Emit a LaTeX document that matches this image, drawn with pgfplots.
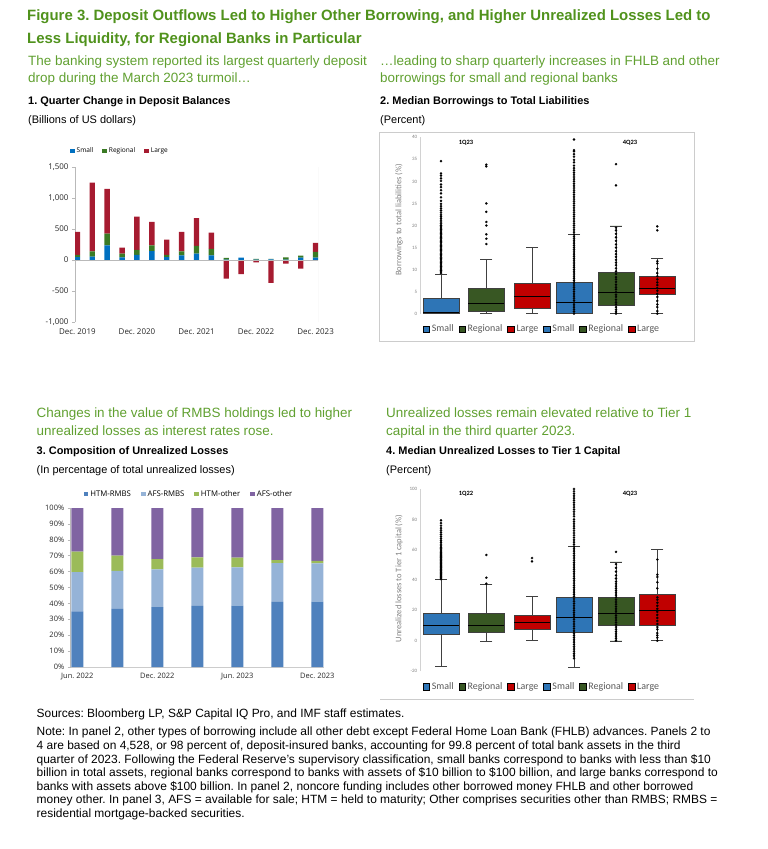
\documentclass[border=0pt]{standalone}
\usepackage{fontspec}
\setmainfont{Liberation Sans}
\newfontfamily\segoe{Open Sans}
\newfontfamily\calib{Carlito}
\usepackage{pgfplots}
\usepackage{pgfplotstable}
\pgfplotsset{compat=1.18}
\usepgfplotslibrary{statistics}
\frenchspacing

\definecolor{imfgreen}{RGB}{80,146,28}
\definecolor{subgreen}{RGB}{96,160,48}
\definecolor{smallc}{RGB}{0,112,192}
\definecolor{regc}{RGB}{58,122,36}
\definecolor{largec}{RGB}{166,27,48}
\definecolor{bxblue}{RGB}{46,117,182}
\definecolor{bxgreen}{RGB}{56,87,35}
\definecolor{bxred}{RGB}{192,0,0}
\definecolor{htmr}{RGB}{79,129,189}
\definecolor{afsr}{RGB}{149,179,215}
\definecolor{htmo}{RGB}{155,187,89}
\definecolor{afso}{RGB}{128,100,162}

% panel 1: quarterly change in deposits, positive parts (billions)
\pgfplotstableread{
idx S R L
0 45 38 372
1 54 86 1110
2 237 189 722
3 43 59 98
4 81 81 538
5 145 92 378
6 48 33 249
7 75 65 313
8 102 124 448
9 75 103 264
10 5 30 0
11 38 0 0
12 8 12 0
13 12 8 0
14 5 38 0
15 38 32 0
16 38 92 146
}\deppos
% negative parts (large banks)
\pgfplotstableread{
idx L
10 -300
11 -227
12 -38
13 -370
14 -60
15 -140
}\depneg

% panel 3: composition of unrealized losses
\pgfplotstableread{
idx htmr afsr htmo afso
0 35.0 24.7 12.8 27.5
1 36.5 23.9 9.6 30.0
2 37.7 23.7 6.5 32.1
3 38.4 24.1 6.5 31.0
4 38.6 24.1 6.1 31.2
5 40.9 24.5 1.9 32.7
6 41.1 24.1 1.5 33.3
}\unreal

\tikzset{txt/.style={anchor=base west, inner sep=0pt}}
\pgfplotsset{
  bx/.style={draw=black!75, line width=0.7bp, mark=*, mark size=1.2bp,
    mark options={fill=black, draw=black, line width=0.1bp}, forget plot,
    boxplot/box extend=36, boxplot/whisker extend=12,
    boxplot/every median/.style={draw=black, line width=1bp}},
  sq/.style={legend image code/.code={\fill[##1] (0bp,-2.3bp) rectangle (4.6bp,2.3bp);}},
  bxsq/.style={legend image code/.code={\draw[##1, draw=black, line width=0.5bp] (0bp,-3.3bp) rectangle (6.6bp,3.3bp);}},
}

\begin{document}
\begin{tikzpicture}
\path[use as bounding box] (0,0) rectangle (768bp,-849bp);

% ---------- texts ----------
\node[txt, font=\bfseries\fontsize{15}{18}\selectfont, text=imfgreen] at (27bp,-20bp) {Figure 3. Deposit Outflows Led to Higher Other Borrowing, and Higher Unrealized Losses Led to};
\node[txt, font=\bfseries\fontsize{15}{18}\selectfont, text=imfgreen] at (27bp,-43bp) {Less Liquidity, for Regional Banks in Particular};

\node[txt, font=\fontsize{13.5}{16}\selectfont, text=subgreen] at (28bp,-65bp) {The banking system reported its largest quarterly deposit};
\node[txt, font=\fontsize{13.5}{16}\selectfont, text=subgreen] at (28bp,-82bp) {drop during the March 2023 turmoil…};
\node[txt, font=\fontsize{13.5}{16}\selectfont, text=subgreen] at (380bp,-65bp) {…leading to sharp quarterly increases in FHLB and other};
\node[txt, font=\fontsize{13.5}{16}\selectfont, text=subgreen] at (380bp,-82bp) {borrowings for small and regional banks};
\node[txt, font=\bfseries\fontsize{11}{13}\selectfont] at (28bp,-104bp) {1. Quarter Change in Deposit Balances};
\node[txt, font=\fontsize{11}{13}\selectfont] at (28bp,-123bp) {(Billions of US dollars)};
\node[txt, font=\bfseries\fontsize{11}{13}\selectfont] at (380bp,-104bp) {2. Median Borrowings to Total Liabilities};
\node[txt, font=\fontsize{11}{13}\selectfont] at (380bp,-123bp) {(Percent)};

\node[txt, font=\fontsize{13.5}{16}\selectfont, text=subgreen] at (36.5bp,-417bp) {Changes in the value of RMBS holdings led to higher};
\node[txt, font=\fontsize{13.5}{16}\selectfont, text=subgreen] at (36.5bp,-435bp) {unrealized losses as interest rates rose.};
\node[txt, font=\bfseries\fontsize{11}{13}\selectfont] at (36.5bp,-454bp) {3. Composition of Unrealized Losses};
\node[txt, font=\fontsize{11}{13}\selectfont] at (36.5bp,-473bp) {(In percentage of total unrealized losses)};
\node[txt, font=\fontsize{13.5}{16}\selectfont, text=subgreen] at (386bp,-417bp) {Unrealized losses remain elevated relative to Tier 1};
\node[txt, font=\fontsize{13.5}{16}\selectfont, text=subgreen] at (386bp,-435bp) {capital in the third quarter 2023.};
\node[txt, font=\bfseries\fontsize{11}{13}\selectfont] at (386bp,-454bp) {4. Median Unrealized Losses to Tier 1 Capital};
\node[txt, font=\fontsize{11}{13}\selectfont] at (386bp,-473bp) {(Percent)};

\begin{scope}[every node/.append style={font=\fontsize{12}{14}\selectfont}]
\node[txt] at (36.5bp,-717bp) {Sources: Bloomberg LP, S\&P Capital IQ Pro, and IMF staff estimates.};
\node[txt] at (36.5bp,-735bp) {Note: In panel 2, other types of borrowing include all other debt except Federal Home Loan Bank (FHLB) advances. Panels 2 to};
\node[txt] at (36.5bp,-749bp) {4 are based on 4,528, or 98 percent of, deposit-insured banks, accounting for 99.8 percent of total bank assets in the third};
\node[txt] at (36.5bp,-763bp) {quarter of 2023. Following the Federal Reserve’s supervisory classification, small banks correspond to banks with less than \$10};
\node[txt] at (36.5bp,-776.5bp) {billion in total assets, regional banks correspond to banks with assets of \$10 billion to \$100 billion, and large banks correspond to};
\node[txt] at (36.5bp,-790bp) {banks with assets above \$100 billion. In panel 2, noncore funding includes other borrowed money FHLB and other borrowed};
\node[txt] at (36.5bp,-803.5bp) {money other. In panel 3, AFS = available for sale; HTM = held to maturity; Other comprises securities other than RMBS; RMBS =};
\node[txt] at (36.5bp,-817bp) {residential mortgage-backed securities.};
\end{scope}

% frames of panels 2 and 4
\draw[gray!40, line width=0.6bp] (379bp,-132bp) rectangle (694bp,-341bp);
\draw[gray!40, line width=0.6bp] (380bp,-699bp) -- (694bp,-699bp);
\node[font=\calib\bfseries\fontsize{6.5}{8}\selectfont] at (466bp,-143bp) {1Q23};
\node[font=\calib\bfseries\fontsize{6.5}{8}\selectfont] at (630bp,-143bp) {4Q23};
\node[font=\calib\bfseries\fontsize{6.5}{8}\selectfont] at (466bp,-494bp) {1Q22};
\node[font=\calib\bfseries\fontsize{6.5}{8}\selectfont] at (630bp,-494bp) {4Q23};

% ---------- panel 1 ----------
\begin{axis}[
  at={(75bp,-322bp)}, anchor=south west, scale only axis,
  width=243bp, height=155bp,
  xmin=-0.16, xmax=16.16, ymin=-1000, ymax=1500,
  ybar stacked, bar width=5.4bp,
  axis x line*=bottom, axis y line*=left,
  x axis line style={draw=none},
  y axis line style={draw=gray!55, line width=0.5bp},
  xtick={0,4,8,12,16},
  xticklabels={Dec. 2019,Dec. 2020,Dec. 2021,Dec. 2022,Dec. 2023},
  xtick style={draw=none},
  ytick={-1000,-500,0,500,1000,1500},
  yticklabels={{-1,000},{-500},{0},{500},{1,000},{1,500}},
  ytick style={draw=gray!55, line width=0.5bp},
  tick align=outside, major tick length=3bp,
  ticklabel style={font=\segoe\fontsize{8}{9}\selectfont, text=black!85},
  sq,
  legend style={at={(0.185,1.103)}, anchor=center, draw=none, fill=none,
    legend columns=3, font=\segoe\fontsize{6.6}{8}\selectfont,
    /tikz/every even column/.append style={column sep=7bp}},
]
\addplot[fill=smallc, draw=none] table[x=idx, y=S] {\deppos};
\addlegendentry{Small}
\addplot[fill=regc, draw=none] table[x=idx, y=R] {\deppos};
\addlegendentry{Regional}
\addplot[fill=largec, draw=none] table[x=idx, y=L] {\deppos};
\addlegendentry{Large}
\draw[gray!30, line width=0.5bp] (rel axis cs:1,0) -- (rel axis cs:1,1);
\end{axis}
\begin{axis}[
  at={(75bp,-322bp)}, anchor=south west, scale only axis,
  width=243bp, height=155bp,
  xmin=-0.16, xmax=16.16, ymin=-1000, ymax=1500,
  hide axis, ybar, bar width=5.4bp, bar shift=0pt,
]
\addplot[fill=largec, draw=none] table[x=idx, y=L] {\depneg};
\draw[gray!55, line width=0.5bp] (axis cs:-0.16,0) -- (axis cs:16.16,0);
\end{axis}

% ---------- panel 2 ----------
\begin{axis}[
  at={(420.7bp,-313.7bp)}, anchor=south west, scale only axis,
  width=269.3bp, height=176.4bp,
  xmin=0, xmax=269.3, ymin=0, ymax=40, clip=false,
  axis x line=none, axis y line*=left,
  y axis line style={draw=gray!35, line width=0.5bp},
  ytick={0,5,...,40}, yticklabels={0,5,10,15,20,25,30,35,40},
  ytick style={draw=none},
  yticklabel style={font=\calib\fontsize{5}{6}\selectfont, text=gray},
  ylabel={Borrowings to total liabilities (\%)},
  ylabel style={at={(axis description cs:-0.081,0.531)}, anchor=center,
    font=\calib\fontsize{8.5}{10}\selectfont, text=gray},
  boxplot/draw direction=y,
  bxsq,
  legend style={at={(0.45,-0.087)}, anchor=center, draw=none, fill=none,
    legend columns=6, font=\calib\fontsize{10}{12}\selectfont, text=black!65,
    /tikz/every even column/.append style={column sep=3bp}},
]
\addplot[bx, fill=bxblue, boxplot prepared={draw position=20.3, lower whisker=0,
  lower quartile=0, median=0.2, upper quartile=3.55, upper whisker=8.85}]
  table[row sep=\\, y index=0] {v\\ 9.2\\ 9.5\\ 9.8\\ 10.1\\ 10.4\\ 10.7\\ 11.0\\ 11.3\\ 11.6\\ 11.9\\
  12.2\\ 12.5\\ 12.8\\ 13.1\\ 13.4\\ 13.7\\ 14.0\\ 14.3\\ 14.6\\ 14.9\\ 15.2\\ 15.5\\ 15.8\\ 16.1\\
  16.4\\ 16.7\\ 17.0\\ 17.3\\ 17.6\\ 17.9\\ 18.2\\ 18.5\\ 18.8\\ 19.1\\ 19.4\\ 19.7\\ 20.0\\ 20.4\\
  20.8\\ 21.2\\ 21.6\\ 22.0\\ 22.4\\ 22.9\\ 23.4\\ 23.9\\ 24.4\\ 24.9\\ 25.6\\ 26.4\\ 27.3\\ 28.0\\
  28.7\\ 29.3\\ 30.1\\ 30.7\\ 31.3\\ 31.8\\ 34.6\\};
\addplot[bx, fill=bxgreen, boxplot prepared={draw position=65.6, lower whisker=0,
  lower quartile=0.45, median=2.35, upper quartile=5.8, upper whisker=12.4}]
  table[row sep=\\, y index=0] {v\\ 15.8\\ 17.0\\ 18.0\\ 20.0\\ 20.8\\ 23.1\\ 25.0\\ 33.4\\ 33.8\\};
\addplot[bx, fill=bxred, boxplot prepared={draw position=111.3, lower whisker=0,
  lower quartile=1.13, median=3.85, upper quartile=6.9, upper whisker=15.1}]
  coordinates {};
\addplot[bx, fill=bxblue, boxplot prepared={draw position=153.3, lower whisker=0,
  lower quartile=0, median=2.57, upper quartile=7.2, upper whisker=18.0}]
  table[row sep=\\, y index=0] {v\\ 0\\ 0.5\\ 1\\ 1.5\\ 2\\ 2.5\\ 3\\ 3.5\\ 4\\ 4.5\\ 5\\ 5.5\\ 6\\ 6.5\\
  7\\ 7.5\\ 8\\ 8.5\\ 9\\ 9.5\\ 10\\ 10.5\\ 11\\ 11.5\\ 12\\ 12.5\\ 13\\ 13.5\\ 14\\ 14.5\\ 15\\ 15.5\\
  16\\ 16.5\\ 17\\ 17.5\\ 18\\ 18.5\\ 19\\ 19.5\\ 20\\ 20.5\\ 21\\ 21.5\\ 22\\ 22.5\\ 23\\ 23.5\\ 24\\
  24.5\\ 25\\ 25.5\\ 26\\ 26.5\\ 27\\ 27.5\\ 28\\ 28.5\\ 29\\ 29.5\\ 30\\ 30.5\\ 31\\ 31.5\\ 32\\ 32.5\\
  33\\ 33.6\\ 34.3\\ 34.9\\ 35.6\\ 36.2\\ 36.8\\ 37.1\\ 39.5\\};
\addplot[bx, fill=bxgreen, boxplot prepared={draw position=195.3, lower whisker=0,
  lower quartile=1.9, median=4.7, upper quartile=9.3, upper whisker=19.9}]
  table[row sep=\\, y index=0] {v\\ 0\\ 0.4\\ 0.9\\ 1.5\\ 2.1\\ 2.6\\ 3.2\\ 3.8\\ 4.3\\ 4.9\\ 5.5\\ 6.0\\
  6.6\\ 7.2\\ 7.8\\ 8.3\\ 9.0\\ 9.6\\ 10.3\\ 11.0\\ 11.6\\ 12.2\\ 12.9\\ 13.5\\ 14.2\\ 15.0\\ 15.7\\
  16.5\\ 17.3\\ 18.1\\ 18.9\\ 19.5\\ 29.1\\ 33.9\\};
\addplot[bx, fill=bxred, boxplot prepared={draw position=236.6, lower whisker=0,
  lower quartile=4.3, median=5.75, upper quartile=8.55, upper whisker=12.6}]
  table[row sep=\\, y index=0] {v\\ 0\\ 0.6\\ 1.5\\ 2.1\\ 2.9\\ 3.8\\ 4.5\\ 5.2\\ 5.8\\ 6.5\\ 7.1\\ 7.8\\
  8.5\\ 9.2\\ 10.2\\ 11.4\\ 11.9\\ 18.9\\ 19.8\\};
\addlegendimage{fill=bxblue}\addlegendentry{Small}
\addlegendimage{fill=bxgreen}\addlegendentry{Regional}
\addlegendimage{fill=bxred}\addlegendentry{Large}
\addlegendimage{fill=bxblue}\addlegendentry{Small}
\addlegendimage{fill=bxgreen}\addlegendentry{Regional}
\addlegendimage{fill=bxred}\addlegendentry{Large}
\end{axis}

% ---------- panel 3 ----------
\begin{axis}[
  at={(70.7bp,-667bp)}, anchor=south west, scale only axis,
  width=252.8bp, height=159bp,
  xmin=-0.165, xmax=6.155, ymin=0, ymax=100,
  ybar stacked, bar width=12bp,
  axis x line*=bottom, axis y line*=left,
  x axis line style={draw=gray!40, line width=0.5bp},
  y axis line style={draw=gray!55, line width=0.5bp},
  xtick={0,2,4,6},
  xticklabels={Jun. 2022,Dec. 2022,Jun. 2023,Dec. 2023},
  xtick style={draw=none},
  ytick={0,10,...,100},
  yticklabels={0\%,10\%,20\%,30\%,40\%,50\%,60\%,70\%,80\%,90\%,100\%},
  ytick style={draw=gray!55, line width=0.5bp},
  tick align=outside, major tick length=3bp,
  ticklabel style={font=\segoe\fontsize{7.5}{9}\selectfont, text=black!85},
  sq,
  legend style={at={(0.468,1.088)}, anchor=center, draw=none, fill=none,
    legend columns=4, font=\segoe\fontsize{7.8}{9}\selectfont,
    /tikz/every even column/.append style={column sep=8bp}},
]
\addplot[fill=htmr, draw=none] table[x=idx, y=htmr] {\unreal};
\addlegendentry{HTM-RMBS}
\addplot[fill=afsr, draw=none] table[x=idx, y=afsr] {\unreal};
\addlegendentry{AFS-RMBS}
\addplot[fill=htmo, draw=none] table[x=idx, y=htmo] {\unreal};
\addlegendentry{HTM-other}
\addplot[fill=afso, draw=none] table[x=idx, y=afso] {\unreal};
\addlegendentry{AFS-other}
\end{axis}

% ---------- panel 4 ----------
\begin{axis}[
  at={(420.7bp,-671bp)}, anchor=south west, scale only axis,
  width=269.3bp, height=182bp,
  xmin=0, xmax=269.3, ymin=-20, ymax=100, clip=false,
  axis x line=none, axis y line*=left,
  y axis line style={draw=gray!35, line width=0.5bp},
  ytick={-20,0,...,100}, yticklabels={-20,0,20,40,60,80,100},
  ytick style={draw=none},
  yticklabel style={font=\calib\fontsize{5}{6}\selectfont, text=gray},
  ylabel={Unrealized losses to Tier 1 capital (\%)},
  ylabel style={at={(axis description cs:-0.081,0.508)}, anchor=center,
    font=\calib\fontsize{8.5}{10}\selectfont, text=gray},
  boxplot/draw direction=y,
  bxsq,
  legend style={at={(0.45,-0.088)}, anchor=center, draw=none, fill=none,
    legend columns=6, font=\calib\fontsize{10}{12}\selectfont, text=black!65,
    /tikz/every even column/.append style={column sep=3bp}},
]
\addplot[bx, fill=bxblue, boxplot prepared={draw position=20.3, lower whisker=-17.1,
  lower quartile=4.0, median=10.3, upper quartile=18.2, upper whisker=40.2}]
  table[row sep=\\, y index=0] {v\\ 40.6\\ 41.2\\ 41.8\\ 42.4\\ 43.0\\ 43.6\\ 44.2\\ 44.8\\ 45.4\\ 46.0\\
  46.6\\ 47.2\\ 47.8\\ 48.4\\ 49.0\\ 49.6\\ 50.2\\ 50.8\\ 51.4\\ 52.0\\ 52.6\\ 53.2\\ 53.8\\ 54.4\\ 55.0\\
  55.6\\ 56.2\\ 56.8\\ 57.5\\ 58.2\\ 59.0\\ 59.8\\ 60.6\\ 61.5\\ 62.5\\ 63.6\\ 64.8\\ 66.0\\ 67.3\\ 68.6\\
  70.0\\ 71.4\\ 72.8\\ 74.2\\ 75.8\\ 77.5\\ 79.3\\};
\addplot[bx, fill=bxgreen, boxplot prepared={draw position=65.6, lower whisker=-0.7,
  lower quartile=5.3, median=9.9, upper quartile=17.8, upper whisker=36.9}]
  table[row sep=\\, y index=0] {v\\ 37.6\\ 41.5\\ 56.5\\};
\addplot[bx, fill=bxred, boxplot prepared={draw position=111.3, lower whisker=0,
  lower quartile=7.7, median=11.9, upper quartile=16.7, upper whisker=29.0}]
  table[row sep=\\, y index=0] {v\\ 52.3\\ 54.5\\};
\addplot[bx, fill=bxblue, boxplot prepared={draw position=153.3, lower whisker=-17.8,
  lower quartile=5.7, median=15.2, upper quartile=28.4, upper whisker=62.2}]
  table[row sep=\\, y index=0] {v\\ -11.6\\ -10\\ -8.5\\ -7\\ -5.5\\ -4\\ -2.5\\ -1\\ 0.5\\ 2\\ 3.5\\ 5\\
  6.5\\ 8\\ 9.5\\ 11\\ 12.5\\ 14\\ 15.5\\ 17\\ 18.5\\ 20\\ 21.5\\ 23\\ 24.5\\ 26\\ 27.5\\ 29\\ 30.5\\ 32\\
  33.5\\ 35\\ 36.5\\ 38\\ 39.5\\ 41\\ 42.5\\ 44\\ 45.5\\ 47\\ 48.5\\ 50\\ 51.5\\ 53\\ 54.5\\ 56\\ 57.5\\
  59\\ 60.5\\ 62\\ 63.5\\ 65\\ 66.5\\ 68\\ 69.5\\ 71\\ 72.5\\ 74\\ 75.5\\ 77\\ 78.5\\ 80\\ 82\\ 83.5\\
  85\\ 86.5\\ 88\\ 89.5\\ 91\\ 92.5\\ 94\\ 95.5\\ 97\\ 98.5\\ 100\\};
\addplot[bx, fill=bxgreen, boxplot prepared={draw position=195.3, lower whisker=-0.2,
  lower quartile=10.3, median=18.0, upper quartile=28.8, upper whisker=51.9}]
  table[row sep=\\, y index=0] {v\\ 0\\ 1.5\\ 3\\ 4.5\\ 6\\ 7.5\\ 9\\ 10.5\\ 12\\ 13.5\\ 15\\ 16.5\\ 18\\
  19.5\\ 21\\ 22.5\\ 24\\ 25.5\\ 27\\ 28.5\\ 30\\ 31.5\\ 33\\ 34.5\\ 36\\ 37.5\\ 39\\ 41\\ 43\\ 45.5\\
  48\\ 50.5\\ 58.5\\};
\addplot[bx, fill=bxred, boxplot prepared={draw position=236.6, lower whisker=0,
  lower quartile=9.9, median=20.0, upper quartile=30.5, upper whisker=60.4}]
  table[row sep=\\, y index=0] {v\\ 0\\ 2\\ 3.5\\ 5\\ 7.5\\ 9\\ 11\\ 13\\ 15\\ 17\\ 19\\ 21\\ 23\\ 25\\
  27\\ 28.5\\ 34.5\\ 38.5\\ 42\\ 43.5\\ 53.5\\};
\addlegendimage{fill=bxblue}\addlegendentry{Small}
\addlegendimage{fill=bxgreen}\addlegendentry{Regional}
\addlegendimage{fill=bxred}\addlegendentry{Large}
\addlegendimage{fill=bxblue}\addlegendentry{Small}
\addlegendimage{fill=bxgreen}\addlegendentry{Regional}
\addlegendimage{fill=bxred}\addlegendentry{Large}
\end{axis}
\end{tikzpicture}
\end{document}
